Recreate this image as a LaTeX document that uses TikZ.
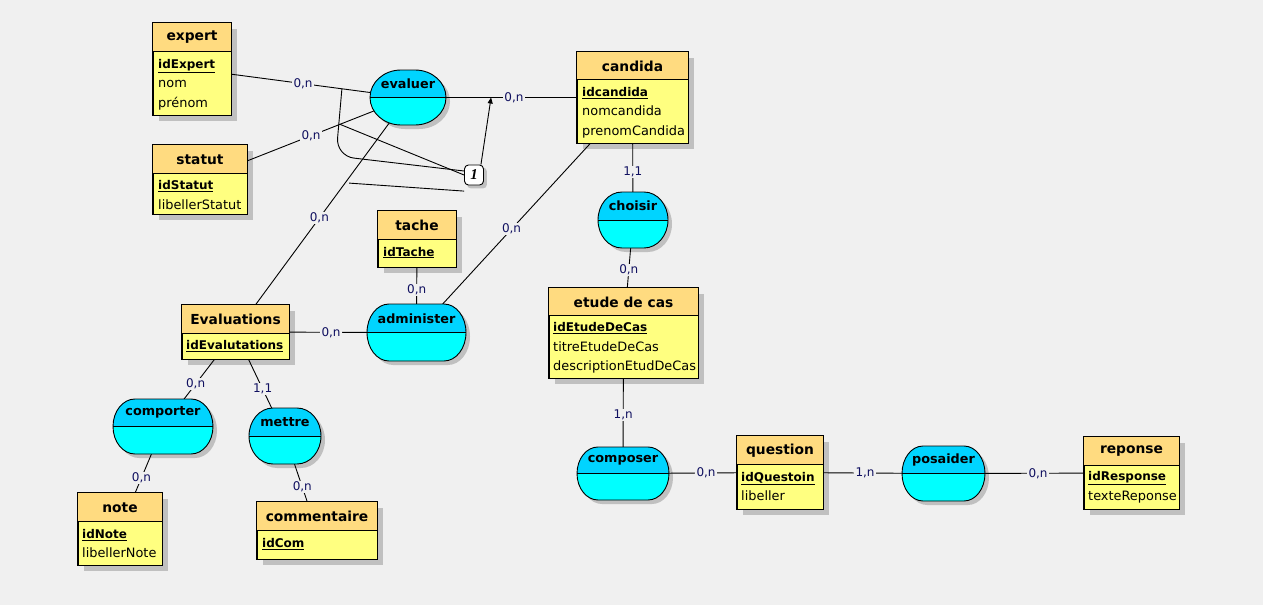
\documentclass[tikz,border=0pt]{standalone}
\usepackage{fontspec}
\setmainfont{DejaVu Sans}
\newfontfamily\cstfont{Liberation Serif}
\usetikzlibrary{fit,calc,arrows.meta}

\definecolor{bgc}{RGB}{240,240,240}
\definecolor{hdrc}{RGB}{255,219,128}
\definecolor{bodyc}{RGB}{255,255,128}
\definecolor{cyantop}{RGB}{0,212,255}
\definecolor{cyanbot}{RGB}{0,255,255}
\definecolor{shadowc}{RGB}{192,192,192}
\definecolor{cardc}{RGB}{16,16,96}

\pgfdeclarelayer{bglayer}
\pgfdeclarelayer{shadowlayer}
\pgfdeclarelayer{linklayer}
\pgfsetlayers{bglayer,shadowlayer,linklayer,main}

\tikzset{
  entbox/.style={draw=black, fill=bodyc, inner sep=0pt, line width=0.9pt},
  enttitle/.style={font=\fontsize{13.8}{16}\selectfont\bfseries, inner sep=0pt},
  attr/.style={anchor=base west, font=\fontsize{12.9}{15}\selectfont, inner sep=0pt, text=black},
  keyattr/.style={anchor=base west, font=\fontsize{12}{15}\selectfont\bfseries, inner sep=0pt},
  assocfill/.style={draw=black, fill=cyanbot, line width=0.9pt},
  assoctitle/.style={font=\fontsize{12.8}{15}\selectfont\bfseries, inner sep=0pt},
  link/.style={draw=black, line width=0.9pt},
  card/.style={font=\fontsize{12}{14}\selectfont, text=cardc, fill=bgc, inner sep=1.2pt, pos=0.53},
  cstbox/.style={draw=black, fill=white, line width=0.9pt, rounded corners=4pt,
    minimum width=19pt, minimum height=20pt, inner sep=0pt,
    font=\fontsize{15}{15}\cstfont\bfseries\itshape},
}

% entity: name, x1, y1, x2, y2, header height, title
\newcommand\ent[7]{%
  \node[entbox, fit={(#2,#3)(#4,#5)}] (#1) {};
  \fill[hdrc] (#2,#3) rectangle (#4,{#3+#6});
  \draw[line width=0.9pt] (#2,{#3+#6}) -- (#4,{#3+#6});
  \draw[line width=0.9pt] (#1.north west) rectangle (#1.south east);
  \node[enttitle] (#1-title) at ({(#2+#4)/2},{#3+#6/2+0.5}) {#7};
  \begin{pgfonlayer}{shadowlayer}
    \fill[shadowc] ([shift={(6pt,-6pt)}]#1.north west) rectangle ([shift={(6pt,-6pt)}]#1.south east);
  \end{pgfonlayer}%
}

% outline of an association: x1, y1, x2, y2, horizontal radius of the ends
\newcommand\assocshape[5]{%
  ({#1+#5},#2) -- ({#3-#5},#2)
  arc[start angle=90, end angle=-90, x radius=#5pt, y radius={((#4-#2)/2)*1pt}]
  -- ({#1+#5},#4)
  arc[start angle=270, end angle=90, x radius=#5pt, y radius={((#4-#2)/2)*1pt}]
  -- cycle}

% association: name, x1, y1, x2, y2, horizontal radius, title
\newcommand\assoc[7]{%
  \node[inner sep=0pt, fit={(#2,#3)(#4,#5)}] (#1) {};
  \path[assocfill, path picture={
      \fill[cyantop] (path picture bounding box.north west) rectangle (path picture bounding box.east);
      \draw[line width=0.9pt] (path picture bounding box.west) -- (path picture bounding box.east);
    }] \assocshape{#2}{#3}{#4}{#5}{#6};
  \node[assoctitle] (#1-title) at ({(#2+#4)/2},{#3+(#5-#3)/4}) {#7};
  \begin{pgfonlayer}{shadowlayer}
    \fill[shadowc, shift={(4,4)}] \assocshape{#2}{#3}{#4}{#5}{#6};
  \end{pgfonlayer}%
}

\begin{document}
\begin{tikzpicture}[x=1pt,y=-1pt]
\useasboundingbox (0,0) rectangle (1263,605);
\begin{pgfonlayer}{bglayer}
  \fill[bgc] (0,0) rectangle (1263,605);
\end{pgfonlayer}

% ---------- entities ----------
\ent{expert}{153}{23}{231}{115}{28}{expert}
\node[keyattr] (expert-a1) at (158,68.5) {\underline{idExpert}};
\node[attr] (expert-a2) at (158,87.5) {nom};
\node[attr] (expert-a3) at (158,107.5) {prénom};

\ent{statut}{153}{145}{247}{214}{28}{statut}
\node[keyattr] (statut-a1) at (158,189.5) {\underline{idStatut}};
\node[attr] (statut-a2) at (158,209.5) {libellerStatut};

\ent{candida}{577}{52}{688}{143}{27}{candida}
\node[keyattr] (candida-a1) at (582,96.5) {\underline{idcandida}};
\node[attr] (candida-a2) at (582,115.5) {nomcandida};
\node[attr] (candida-a3) at (582,135.5) {prenomCandida};

\ent{tache}{378}{211}{456}{267}{28}{tache}
\node[keyattr] (tache-a1) at (383,256) {\underline{idTache}};

\ent{Evaluations}{182}{305}{289}{359}{28}{Evaluations}
\node[keyattr] (Evaluations-a1) at (186,349.5) {\underline{idEvalutations}};

\ent{etude}{549}{288}{698}{378}{27}{etude de cas}
\node[keyattr] (etude-a1) at (553,331.5) {\underline{idEtudeDeCas}};
\node[attr] (etude-a2) at (553,351) {titreEtudeDeCas};
\node[attr] (etude-a3) at (553,370.5) {descriptionEtudDeCas};

\ent{question}{737}{436}{823}{509}{28}{question}
\node[keyattr] (question-a1) at (741,481) {\underline{idQuestoin}};
\node[attr] (question-a2) at (741,500.5) {libeller};

\ent{reponse}{1084}{437}{1179}{509}{28}{reponse}
\node[keyattr] (reponse-a1) at (1088,480.5) {\underline{idResponse}};
\node[attr] (reponse-a2) at (1088,500.5) {texteReponse};

\ent{note}{78}{493}{162}{565}{28}{note}
\node[keyattr] (note-a1) at (82,538.5) {\underline{idNote}};
\node[attr] (note-a2) at (82,557.5) {libellerNote};

\ent{commentaire}{257}{502}{377}{559}{28}{commentaire}
\node[keyattr] (commentaire-a1) at (262,547.5) {\underline{idCom}};

% ---------- associations ----------
\assoc{evaluer}{370}{70}{446}{125}{31}{evaluer}
\assoc{choisir}{598}{192}{668}{248}{24}{choisir}
\assoc{administer}{367}{304}{466}{361}{22}{administer}
\assoc{comporter}{113}{399}{213}{454}{22}{comporter}
\assoc{mettre}{249}{408}{321}{464}{24}{mettre}
\assoc{composer}{577}{447}{669}{500}{21}{composer}
\assoc{posaider}{902}{446}{985}{501}{21}{posaider}

% ---------- inclusion constraint ----------
\node[cstbox] (cst) at (474,175) {1};
\begin{pgfonlayer}{shadowlayer}
  \fill[shadowc, rounded corners=4pt] ([shift={(3pt,-3pt)}]cst.north west) rectangle ([shift={(3pt,-3pt)}]cst.south east);
\end{pgfonlayer}

% ---------- links (centre to centre, hidden under the boxes) ----------
\begin{pgfonlayer}{linklayer}
  \draw[link] (expert.center) -- node[card, pos=0.514] {0,n} (evaluer.center);
  \draw[link] (statut.center) -- node[card, pos=0.534] {0,n} (evaluer.center);
  \draw[link] (evaluer.center) -- node[card, pos=0.472] {0,n} (candida.center);
  \draw[link] (evaluer.center) -- node[card, pos=0.514] {0,n} (Evaluations.center);
  \draw[link] (candida.center) -- node[card, pos=0.56] {0,n} (administer.center);
  \draw[link] (candida.center) -- node[card, pos=0.608] {1,1} (choisir.center);
  \draw[link] (choisir.center) -- node[card, pos=0.442] {0,n} (etude.center);
  \draw[link] (tache.center) -- node[card, pos=0.545] {0,n} (administer.center);
  \draw[link] (Evaluations.center) -- node[card, pos=0.528] {0,n} (administer.center);
  \draw[link] (Evaluations.center) -- node[card, pos=0.55] {0,n} (comporter.center);
  \draw[link] (Evaluations.center) -- node[card, pos=0.548] {1,1} (mettre.center);
  \draw[link] (comporter.center) -- node[card, pos=0.502] {0,n} (note.center);
  \draw[link] (mettre.center) -- node[card, pos=0.54] {0,n} (commentaire.center);
  \draw[link] (etude.center) -- node[card, pos=0.584] {1,n} (composer.center);
  \draw[link] (composer.center) -- node[card, pos=0.529] {0,n} (question.center);
  \draw[link] (question.center) -- node[card, pos=0.52] {1,n} (posaider.center);
  \draw[link] (posaider.center) -- node[card, pos=0.503] {0,n} (reponse.center);

  % constraint legs, taken from points on the links of evaluer
  \coordinate (k1) at ($(expert.center)!0.694!(evaluer.center)$);
  \coordinate (k1bend) at (336,156);
  \coordinate (k2) at ($(statut.center)!0.673!(evaluer.center)$);
  \coordinate (k3) at ($(evaluer.center)!0.365!(Evaluations.center)$);
  \coordinate (a1) at ($(evaluer.center)!0.37!(candida.center)$);
  \draw[link, rounded corners=18pt] (k1) -- (k1bend) -- ([yshift=4pt]cst.west);
  \draw[link] (k2) -- (cst.west);
  \draw[link] ([xshift=4pt]k3) -- ([yshift=-8pt]cst.west |- k3);
  \draw[link, -{Triangle[length=6pt,width=5pt]}] ([xshift=-3pt]cst.north east) -- (a1);
\end{pgfonlayer}
\end{tikzpicture}
\end{document}
